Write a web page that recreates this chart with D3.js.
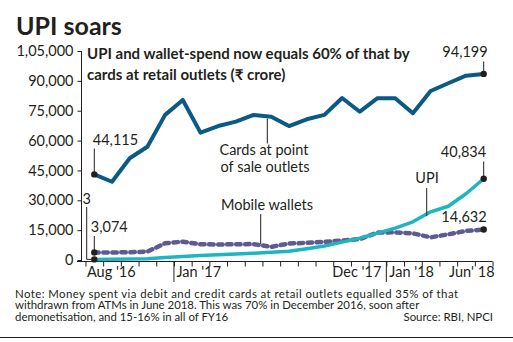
<!DOCTYPE html>
<html>
<head>
<meta charset="utf-8">
<script src="https://cdn.jsdelivr.net/npm/d3@7"></script>
<style>
  html, body { margin: 0; padding: 0; background: #fff; }
  svg { display: block; }
  text { font-family: Lato, "Noto Sans", sans-serif; fill: #231f20; }
</style>
</head>
<body>
<script>
// ---- data ----
const months = ["Aug '16","Sep '16","Oct '16","Nov '16","Dec '16","Jan '17","Feb '17","Mar '17","Apr '17","May '17","Jun '17","Jul '17","Aug '17","Sep '17","Oct '17","Nov '17","Dec '17","Jan '18","Feb '18","Mar '18","Apr '18","May '18","Jun '18"];
const cards   = [43000,39300,51100,56900,72900,80400,64000,67300,69500,72900,72000,67300,70700,72900,81400,74500,81300,81300,73700,84900,88800,92600,93500];
const wallets = [3800,3800,3900,4200,8400,9200,7900,7800,7900,8000,6600,8300,8600,9100,9800,10500,13800,13900,13400,11400,12900,14600,15300];
const upi     = [300,400,500,600,1200,1800,2200,2600,3000,3400,3900,4400,5600,7000,9000,11000,13500,16000,19200,24200,27000,33300,40834];
const yTicks = [0,15000,30000,45000,60000,75000,90000,105000];
const yTickLabels = ["0","15,000","30,000","45,000","60,000","75,000","90,000","1,05,000"];
const xLabels = ["Aug '16","Jan '17","Dec '17","Jan '18","Jun' 18"];
const yearBreaks = ["Jan '17","Jan '18"];
const endLabels = {cards:"94,199", upi:"40,834", wallets:"14,632"};
const startLabels = {cards:"44,115", wallets:"3,074", upi:"3"};
const title = "UPI soars";
const subtitle = ["UPI and wallet-spend now equals 60% of that by", "cards at retail outlets (\u20B9 crore)"];
const note = ["Note: Money spent via debit and credit cards at retail outlets equalled 35% of that",
              "withdrawn from ATMs in June 2018. This was 70% in December 2016, soon after",
              "demonetisation, and 15-16% in all of FY16"];
const source = "Source: RBI, NPCI";

// ---- layout ----
const W = 513, H = 342;
const ink = "#231f20";
const cCards = "#0b5a86", cUpi = "#1db5c2", cWal = "#5d5b91";

const svg = d3.select("body").append("svg").attr("width", W).attr("height", H);
svg.append("rect").attr("width", W).attr("height", H).attr("fill", "#fff");

const xi = d3.scaleLinear().domain([0, months.length - 1]).range([94.3, 483.7]);
const y = d3.scaleLinear().domain([0, 105000]).range([260, 51]);

// title / subtitle
svg.append("text").attr("x", 16).attr("y", 35).attr("font-size", 25).attr("font-weight", 700).text(title);
subtitle.forEach((t, i) => svg.append("text").attr("x", 87).attr("y", 59 + i * 20.5)
  .attr("font-size", 15).attr("font-weight", 700).text(t));

// y axis
const gy = svg.append("g").attr("transform", "translate(81.5,0)")
  .call(d3.axisLeft(y).tickValues(yTicks).tickFormat((d, i) => yTickLabels[i]).tickSize(4).tickPadding(4));
gy.select(".domain").remove();
gy.selectAll(".tick line").attr("stroke", ink);
gy.selectAll(".tick text").attr("font-size", 14.5).attr("fill", ink).style("font-family", "Lato");
svg.append("line").attr("x1", 81.5).attr("x2", 81.5).attr("y1", y(105000)).attr("y2", 261.5).attr("stroke", ink);

// x axis
const axisY = 261.5;
const gx = svg.append("g").attr("transform", `translate(0,${axisY})`)
  .call(d3.axisBottom(xi).tickValues(d3.range(-0.5, months.length, 1)).tickFormat("").tickSize(5));
gx.select(".domain").remove();
gx.selectAll(".tick line").attr("stroke", ink);
svg.append("line").attr("x1", 77).attr("x2", xi(months.length - 0.5)).attr("y1", axisY).attr("y2", axisY).attr("stroke", ink);
yearBreaks.forEach(m => {
  const bx = xi(months.indexOf(m) - 0.5);
  svg.append("line").attr("x1", bx).attr("x2", bx).attr("y1", axisY).attr("y2", 282).attr("stroke", ink);
});
const xl = svg.append("g").attr("font-size", 14.5);
const b = i => xi(i);
xl.append("text").attr("x", b(-0.5) + 1.5).attr("y", 277).text(xLabels[0]);
xl.append("text").attr("x", b(months.indexOf("Jan '17") - 0.5) + 2.5).attr("y", 277).text(xLabels[1]);
xl.append("text").attr("x", b(months.indexOf("Jan '18") - 0.5) - 5).attr("y", 277).attr("text-anchor", "end").text(xLabels[2]);
xl.append("text").attr("x", b(months.indexOf("Jan '18") - 0.5) + 3).attr("y", 277).text(xLabels[3]);
xl.append("text").attr("x", b(months.length - 0.5) + 2).attr("y", 277).attr("text-anchor", "end").text(xLabels[4]);

// lines
const line = d3.line().x((d, i) => xi(i)).y(d => y(d));
svg.append("path").datum(wallets).attr("d", line).attr("fill", "none").attr("stroke", cWal)
  .attr("stroke-width", 4.5).attr("stroke-dasharray", "4.5,4.5").attr("stroke-linecap", "round").attr("stroke-linejoin", "round");
svg.append("path").datum(upi).attr("d", line).attr("fill", "none").attr("stroke", cUpi)
  .attr("stroke-width", 3.5).attr("stroke-linejoin", "round");
svg.append("path").datum(cards).attr("d", line).attr("fill", "none").attr("stroke", cCards)
  .attr("stroke-width", 4).attr("stroke-linejoin", "round");

// dots
const last = months.length - 1;
[[0, cards[0]], [0, wallets[0]], [0, upi[0]], [last, cards[last]], [last, upi[last]], [last, wallets[last]]]
  .forEach(([i, v]) => svg.append("circle").attr("cx", xi(i)).attr("cy", y(v)).attr("r", 3.2).attr("fill", ink));

// annotations
const ann = svg.append("g").attr("font-size", 14.5);
const lead = (x1, y1, x2, y2) => svg.append("line").attr("x1", x1).attr("y1", y1).attr("x2", x2).attr("y2", y2).attr("stroke", ink).attr("stroke-width", 1);
ann.append("text").attr("x", xi(0) - 1.5).attr("y", 145).text(startLabels.cards);
lead(xi(0), 148.5, xi(0), y(cards[0]));
ann.append("text").attr("x", xi(0) - 3.5).attr("y", 231.5).text(startLabels.wallets);
lead(xi(0), 236, xi(0), y(wallets[0]));
ann.append("text").attr("x", 82.5).attr("y", 204).text(startLabels.upi);
svg.append("path").attr("d", `M86.7,207 V${y(upi[0])} H${xi(0)}`).attr("fill", "none").attr("stroke", ink);
ann.append("text").attr("x", xi(last) + 4).attr("y", 56.5).attr("text-anchor", "end").text(endLabels.cards);
lead(xi(last), 61.5, xi(last), y(cards[last]));
ann.append("text").attr("x", xi(last) + 2.5).attr("y", 156.5).attr("text-anchor", "end").text(endLabels.upi);
lead(xi(last), 161.5, xi(last), y(upi[last]));
ann.append("text").attr("x", xi(last) + 3).attr("y", 222).attr("text-anchor", "end").text(endLabels.wallets);
ann.append("text").attr("x", 264).attr("y", 155).attr("text-anchor", "middle").text("Cards at point");
ann.append("text").attr("x", 265).attr("y", 171.5).attr("text-anchor", "middle").text("of sale outlets");
lead(267.3, y(cards[10]) + 2, 267.3, 143.5);
ann.append("text").attr("x", 267).attr("y", 210).attr("text-anchor", "middle").text("Mobile wallets");
lead(260.7, 214, 260.7, 244);
ann.append("text").attr("x", 427).attr("y", 183.3).attr("text-anchor", "middle").text("UPI");
lead(426.7, 188, 426.7, 216);

// note
const nt = svg.append("g").attr("font-size", 11.4);
note.forEach((t, i) => nt.append("text").attr("x", 15).attr("y", 297.5 + i * 11.6).text(t)
  .attr("textLength", i === 0 ? 443 : null).attr("lengthAdjust", "spacing"));
nt.append("text").attr("x", 493).attr("y", 297.5 + 2 * 11.6).attr("text-anchor", "end").text(source);
svg.append("line").attr("x1", 0).attr("x2", W).attr("y1", 337.5).attr("y2", 337.5).attr("stroke", ink).attr("stroke-width", 1.2);
</script>
</body>
</html>
